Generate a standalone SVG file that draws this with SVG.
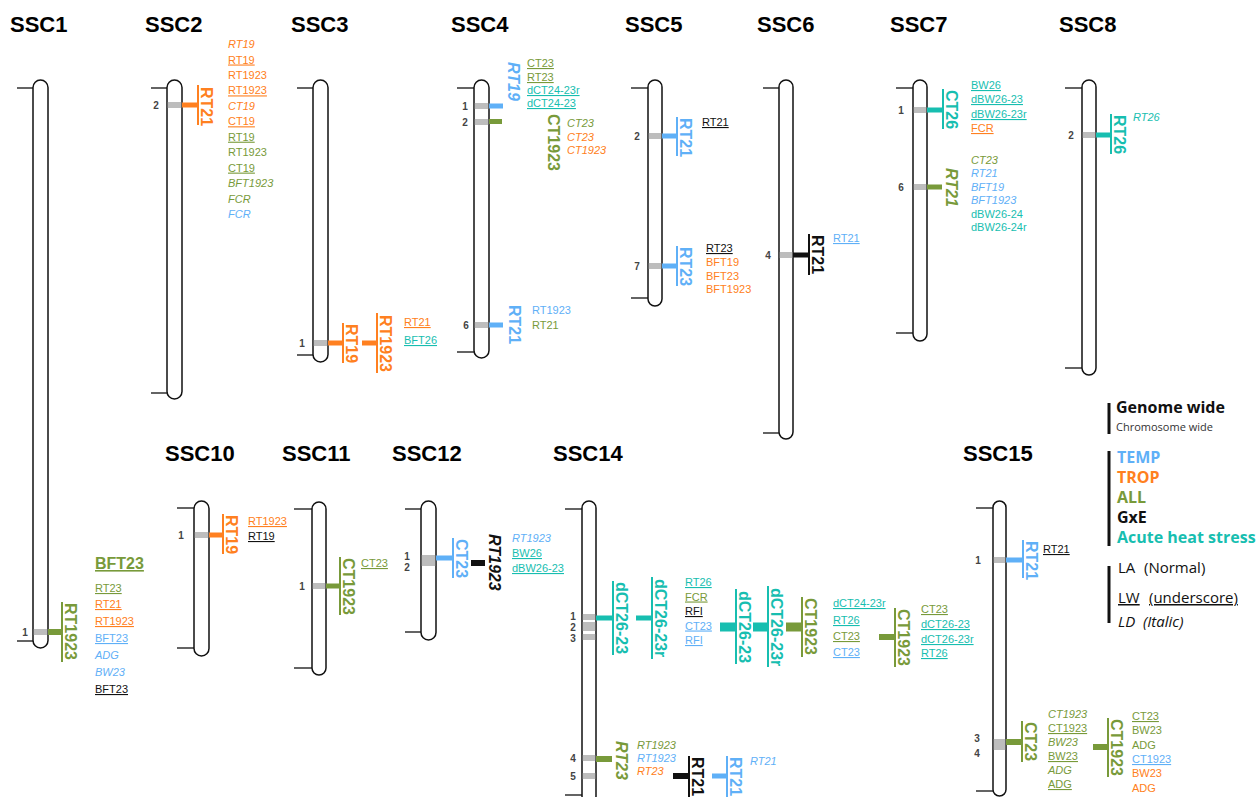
<svg xmlns="http://www.w3.org/2000/svg" width="1257" height="797" viewBox="0 0 1257 797">
<style>
.bg{fill:#fff}
.title{font-family:"Liberation Sans",Arial,sans-serif;font-weight:bold;font-size:22px;fill:#000}
.chr{fill:#fff;stroke:#111;stroke-width:1.5}
.tick{stroke:#222;stroke-width:1.4}
.band{fill:#bdbdbd}
.mk{font-family:"Liberation Sans",Arial,sans-serif;font-weight:bold;font-size:10px;fill:#444;text-anchor:middle}
.q{font-family:"Liberation Sans",Arial,sans-serif;font-weight:bold;font-size:16px}
.l{font-family:"Liberation Sans",Arial,sans-serif;font-size:11px}
.u{text-decoration:underline}
.i{font-style:italic}
.cB{fill:#5fb0f7}.cO{fill:#ff8020}.cG{fill:#789a3a}.cT{fill:#17beb0}.cK{fill:#111}
.sB{stroke:#5fb0f7}.sO{stroke:#ff8020}.sG{stroke:#789a3a}.sT{stroke:#17beb0}.sK{stroke:#111}
.ul{stroke-width:2}
.lg{font-family:"Open Sans","Liberation Sans",sans-serif}
.lgb{stroke:#111;stroke-width:3}
</style>
<rect class="bg" x="0" y="0" width="1257" height="797"/>

<!-- SSC1 -->
<g id="ssc1">
<text class="title" x="10" y="32">SSC1</text>
<line class="tick" x1="17" y1="88" x2="33" y2="88"/><line class="tick" x1="17" y1="641" x2="33" y2="641"/>
<rect class="chr" x="33" y="80" width="15" height="568" rx="7.5"/>
<rect class="band" x="33.8" y="629" width="13.4" height="6"/>
<text class="mk" x="25" y="636">1</text>
<line class="ul sG" x1="62" y1="602" x2="62" y2="662"/>
<text class="q cG" transform="translate(64.5,603) rotate(90)">RT1923</text>
<text class="q cG u" x="95" y="569">BFT23</text>
<text class="l cG u" x="95" y="592">RT23</text>
<text class="l cO u" x="95" y="608">RT21</text>
<text class="l cO u" x="95" y="625">RT1923</text>
<text class="l cB u" x="95" y="642">BFT23</text>
<text class="l cB i" x="95" y="659">ADG</text>
<text class="l cB i" x="95" y="676">BW23</text>
<text class="l cK u" x="95" y="693">BFT23</text>
</g>

<!-- SSC2 -->
<g id="ssc2">
<text class="title" x="145" y="32">SSC2</text>
<line class="tick" x1="151" y1="88" x2="167" y2="88"/><line class="tick" x1="151" y1="393" x2="167" y2="393"/>
<rect class="chr" x="167" y="80" width="15" height="319" rx="7.5"/>
<rect class="band" x="167.8" y="102" width="13.4" height="6"/>
<text class="mk" x="156" y="109">2</text>
<line class="ul sO" x1="198" y1="85" x2="198" y2="125"/>
<text class="q cO" transform="translate(200.5,87) rotate(90)">RT21</text>
<text class="l cO i" x="228" y="48">RT19</text>
<text class="l cO u" x="228" y="63.5">RT19</text>
<text class="l cO" x="228" y="79">RT1923</text>
<text class="l cO u" x="228" y="94.4">RT1923</text>
<text class="l cO i" x="228" y="109.8">CT19</text>
<text class="l cO u" x="228" y="125.3">CT19</text>
<text class="l cG u" x="228" y="140.7">RT19</text>
<text class="l cG" x="228" y="156.2">RT1923</text>
<text class="l cG u" x="228" y="171.6">CT19</text>
<text class="l cG i" x="228" y="187">BFT1923</text>
<text class="l cG i" x="228" y="202.5">FCR</text>
<text class="l cB i" x="228" y="218">FCR</text>
</g>

<!-- SSC3 -->
<g id="ssc3">
<text class="title" x="291" y="32">SSC3</text>
<line class="tick" x1="297" y1="88" x2="313" y2="88"/><line class="tick" x1="297" y1="355" x2="313" y2="355"/>
<rect class="chr" x="313" y="80" width="15" height="282" rx="7.5"/>
<rect class="band" x="313.8" y="340" width="13.4" height="6"/>
<text class="mk" x="302" y="347">1</text>
<line class="ul sO" x1="343" y1="323" x2="343" y2="363"/>
<text class="q cO" transform="translate(345.5,324) rotate(90)">RT19</text>
<line class="ul sO" x1="377" y1="313" x2="377" y2="373"/>
<text class="q cO" transform="translate(379.5,315) rotate(90)">RT1923</text>
<text class="l cO u" x="404" y="326">RT21</text>
<text class="l cT u" x="404" y="344">BFT26</text>
</g>

<!-- SSC4 -->
<g id="ssc4">
<text class="title" x="451" y="32">SSC4</text>
<line class="tick" x1="457" y1="88" x2="474" y2="88"/><line class="tick" x1="457" y1="352" x2="474" y2="352"/>
<rect class="chr" x="474" y="80" width="15" height="278" rx="7.5"/>
<rect class="band" x="474.8" y="103" width="13.4" height="6"/>
<rect class="band" x="474.8" y="119" width="13.4" height="6"/>
<rect class="band" x="474.8" y="322" width="13.4" height="6"/>
<text class="mk" x="465" y="110">1</text>
<text class="mk" x="465" y="126">2</text>
<text class="mk" x="466" y="329">6</text>
<text class="q cB i" transform="translate(507.5,62) rotate(90)">RT19</text>
<text class="q cG" transform="translate(548,114) rotate(90)">CT1923</text>
<text class="q cB" transform="translate(508.5,305) rotate(90)">RT21</text>
<text class="l cG u" x="527" y="67">CT23</text>
<text class="l cG u" x="527" y="81">RT23</text>
<text class="l cT u" x="527" y="94">dCT24-23r</text>
<text class="l cT u" x="527" y="107">dCT24-23</text>
<text class="l cG i" x="567" y="127">CT23</text>
<text class="l cO i" x="567" y="141">CT23</text>
<text class="l cO i" x="567" y="154">CT1923</text>
<text class="l cB" x="532" y="314">RT1923</text>
<text class="l cG" x="532" y="329">RT21</text>
</g>

<!-- SSC5 -->
<g id="ssc5">
<text class="title" x="625" y="32">SSC5</text>
<line class="tick" x1="631" y1="88" x2="648" y2="88"/><line class="tick" x1="631" y1="298" x2="648" y2="298"/>
<rect class="chr" x="648" y="80" width="14" height="226" rx="7"/>
<rect class="band" x="648.8" y="133" width="12.4" height="6"/>
<rect class="band" x="648.8" y="263" width="12.4" height="6"/>
<text class="mk" x="637" y="140">2</text>
<text class="mk" x="637" y="270">7</text>
<line class="ul sB" x1="677" y1="117" x2="677" y2="156"/>
<text class="q cB" transform="translate(679.5,118) rotate(90)">RT21</text>
<line class="ul sB" x1="677" y1="246" x2="677" y2="286"/>
<text class="q cB" transform="translate(679.5,247) rotate(90)">RT23</text>
<text class="l cK u" x="702" y="126">RT21</text>
<text class="l cK u" x="706" y="252">RT23</text>
<text class="l cO" x="706" y="266">BFT19</text>
<text class="l cO" x="706" y="280">BFT23</text>
<text class="l cO" x="706" y="293">BFT1923</text>
</g>

<!-- SSC6 -->
<g id="ssc6">
<text class="title" x="757" y="32">SSC6</text>
<line class="tick" x1="763" y1="88" x2="779" y2="88"/><line class="tick" x1="763" y1="433" x2="779" y2="433"/>
<rect class="chr" x="779" y="80" width="14" height="359" rx="7"/>
<rect class="band" x="779.8" y="252" width="12.4" height="6"/>
<text class="mk" x="768" y="259">4</text>
<line class="ul sK" x1="809" y1="234" x2="809" y2="275"/>
<text class="q cK" transform="translate(811.5,235) rotate(90)">RT21</text>
<text class="l cB u" x="833" y="242">RT21</text>
</g>

<!-- SSC7 -->
<g id="ssc7">
<text class="title" x="890" y="32">SSC7</text>
<line class="tick" x1="896" y1="88" x2="913" y2="88"/><line class="tick" x1="896" y1="333" x2="913" y2="333"/>
<rect class="chr" x="913" y="80" width="14" height="261" rx="7"/>
<rect class="band" x="913.8" y="107" width="12.4" height="6"/>
<rect class="band" x="913.8" y="184" width="12.4" height="6"/>
<text class="mk" x="901" y="114">1</text>
<text class="mk" x="901" y="191">6</text>
<line class="ul sT" x1="943" y1="89" x2="943" y2="129"/>
<text class="q cT" transform="translate(945.5,90) rotate(90)">CT26</text>
<text class="q cG i" transform="translate(945.5,168) rotate(90)">RT21</text>
<text class="l cT u" x="971" y="89">BW26</text>
<text class="l cT u" x="971" y="103">dBW26-23</text>
<text class="l cT u" x="971" y="118">dBW26-23r</text>
<text class="l cO u" x="971" y="132">FCR</text>
<text class="l cG i" x="971" y="164">CT23</text>
<text class="l cB i" x="971" y="177">RT21</text>
<text class="l cB i" x="971" y="191">BFT19</text>
<text class="l cB i" x="971" y="204">BFT1923</text>
<text class="l cT" x="971" y="218">dBW26-24</text>
<text class="l cT" x="971" y="231">dBW26-24r</text>
</g>

<!-- SSC8 -->
<g id="ssc8">
<text class="title" x="1059" y="32">SSC8</text>
<line class="tick" x1="1065" y1="88" x2="1082" y2="88"/><line class="tick" x1="1065" y1="368" x2="1082" y2="368"/>
<rect class="chr" x="1082" y="80" width="14" height="295" rx="7"/>
<rect class="band" x="1082.8" y="132" width="12.4" height="6"/>
<text class="mk" x="1071" y="139">2</text>
<line class="ul sT" x1="1111" y1="114" x2="1111" y2="154"/>
<text class="q cT" transform="translate(1113.5,115) rotate(90)">RT26</text>
<text class="l cT i" x="1133" y="121">RT26</text>
</g>

<!-- SSC10 -->
<g id="ssc10">
<text class="title" x="165" y="461">SSC10</text>
<line class="tick" x1="177" y1="508" x2="194" y2="508"/><line class="tick" x1="177" y1="648" x2="194" y2="648"/>
<rect class="chr" x="194" y="501" width="15" height="155" rx="7.5"/>
<rect class="band" x="194.8" y="532" width="13.4" height="6"/>
<text class="mk" x="181" y="539">1</text>
<line class="ul sO" x1="223" y1="514" x2="223" y2="554"/>
<text class="q cO" transform="translate(225.5,515) rotate(90)">RT19</text>
<text class="l cO u" x="248" y="525">RT1923</text>
<text class="l cK u" x="248" y="540">RT19</text>
</g>

<!-- SSC11 -->
<g id="ssc11">
<text class="title" x="282" y="461">SSC11</text>
<line class="tick" x1="294" y1="509" x2="312" y2="509"/><line class="tick" x1="294" y1="668" x2="312" y2="668"/>
<rect class="chr" x="312" y="502" width="14" height="173" rx="7"/>
<rect class="band" x="312.8" y="583" width="12.4" height="6"/>
<text class="mk" x="302" y="590">1</text>
<line class="ul sG" x1="340" y1="557" x2="340" y2="615"/>
<text class="q cG" transform="translate(342.5,558) rotate(90)">CT1923</text>
<text class="l cG u" x="361" y="567">CT23</text>
</g>

<!-- SSC12 -->
<g id="ssc12">
<text class="title" x="392" y="461">SSC12</text>
<line class="tick" x1="405" y1="509" x2="421" y2="509"/><line class="tick" x1="405" y1="632" x2="421" y2="632"/>
<rect class="chr" x="421" y="501" width="15" height="139" rx="7.5"/>
<rect class="band" x="421.8" y="555" width="13.4" height="11"/>
<text class="mk" x="407" y="560">1</text>
<text class="mk" x="407" y="571">2</text>
<line class="ul sB" x1="453" y1="538" x2="453" y2="578"/>
<text class="q cB" transform="translate(455.5,539) rotate(90)">CT23</text>
<text class="q cK i" transform="translate(488.5,534) rotate(90)">RT1923</text>
<text class="l cB i" x="512" y="542">RT1923</text>
<text class="l cT u" x="512" y="557">BW26</text>
<text class="l cT u" x="512" y="572">dBW26-23</text>
</g>

<!-- SSC14 -->
<g id="ssc14">
<text class="title" x="553" y="461">SSC14</text>
<line class="tick" x1="565" y1="509" x2="582" y2="509"/><line class="tick" x1="565" y1="795" x2="582" y2="795"/>
<rect class="chr" x="582" y="501" width="14" height="302" rx="7"/>
<rect class="band" x="582.8" y="614" width="12.4" height="6"/>
<rect class="band" x="582.8" y="622" width="12.4" height="9"/>
<rect class="band" x="582.8" y="634" width="12.4" height="6"/>
<rect class="band" x="582.8" y="755" width="12.4" height="6"/>
<rect class="band" x="582.8" y="773" width="12.4" height="6"/>
<text class="mk" x="573" y="620">1</text>
<text class="mk" x="573" y="631">2</text>
<text class="mk" x="573" y="642">3</text>
<text class="mk" x="573" y="762">4</text>
<text class="mk" x="573" y="780">5</text>
<line class="ul sT" x1="613" y1="581" x2="613" y2="655"/>
<text class="q cT" transform="translate(615.5,582) rotate(90)">dCT26-23</text>
<line class="ul sT" x1="652" y1="577" x2="652" y2="659"/>
<text class="q cT" transform="translate(654.5,579) rotate(90)">dCT26-23r</text>
<text class="l cT u" x="685" y="586">RT26</text>
<text class="l cG u" x="685" y="600.5">FCR</text>
<text class="l cK u" x="685" y="615">RFI</text>
<text class="l cB u" x="685" y="629.5">CT23</text>
<text class="l cB u" x="685" y="644">RFI</text>
<line class="ul sT" x1="736" y1="589" x2="736" y2="664"/>
<text class="q cT" transform="translate(738.5,591) rotate(90)">dCT26-23</text>
<line class="ul sT" x1="768" y1="586" x2="768" y2="667"/>
<text class="q cT" transform="translate(770.5,588) rotate(90)">dCT26-23r</text>
<line class="ul sG" x1="802" y1="597" x2="802" y2="657"/>
<text class="q cG" transform="translate(804.5,598) rotate(90)">CT1923</text>
<text class="l cT u" x="833" y="607">dCT24-23r</text>
<text class="l cT u" x="833" y="624">RT26</text>
<text class="l cG u" x="833" y="640">CT23</text>
<text class="l cB u" x="833" y="656">CT23</text>
<line class="ul sG" x1="895" y1="608" x2="895" y2="667"/>
<text class="q cG" transform="translate(897.5,609) rotate(90)">CT1923</text>
<text class="l cG u" x="921" y="613">CT23</text>
<text class="l cT u" x="921" y="628">dCT26-23</text>
<text class="l cT u" x="921" y="643">dCT26-23r</text>
<text class="l cT u" x="921" y="657">RT26</text>
<text class="q cG i" transform="translate(615.5,741) rotate(90)">RT23</text>
<text class="l cG i" x="637" y="749">RT1923</text>
<text class="l cB i" x="637" y="762">RT1923</text>
<text class="l cO i" x="637" y="775">RT23</text>
<line class="ul sK" x1="689" y1="756" x2="689" y2="797"/>
<text class="q cK" transform="translate(691.5,757) rotate(90)">RT21</text>
<line class="ul sB" x1="727" y1="756" x2="727" y2="797"/>
<text class="q cB" transform="translate(729.5,757) rotate(90)">RT21</text>
<text class="l cB i" x="750" y="765">RT21</text>
</g>

<!-- SSC15 -->
<g id="ssc15">
<text class="title" x="963" y="461">SSC15</text>
<line class="tick" x1="976" y1="508" x2="993" y2="508"/><line class="tick" x1="976" y1="791" x2="993" y2="791"/>
<rect class="chr" x="993" y="501" width="13" height="295" rx="6.5"/>
<rect class="band" x="993.8" y="557" width="11.4" height="6"/>
<rect class="band" x="993.8" y="739" width="11.4" height="11"/>
<text class="mk" x="978" y="564">1</text>
<text class="mk" x="977" y="742">3</text>
<text class="mk" x="977" y="757">4</text>
<line class="ul sB" x1="1023" y1="540" x2="1023" y2="578"/>
<text class="q cB" transform="translate(1025.5,541) rotate(90)">RT21</text>
<text class="l cK u" x="1043" y="553">RT21</text>
<line class="ul sG" x1="1022" y1="721" x2="1022" y2="762"/>
<text class="q cG" transform="translate(1024.5,722) rotate(90)">CT23</text>
<text class="l cG i" x="1048" y="718">CT1923</text>
<text class="l cG u" x="1048" y="732">CT1923</text>
<text class="l cG i" x="1048" y="746">BW23</text>
<text class="l cG u" x="1048" y="760">BW23</text>
<text class="l cG i" x="1048" y="774">ADG</text>
<text class="l cG u" x="1048" y="788">ADG</text>
<line class="ul sG" x1="1108" y1="718" x2="1108" y2="777"/>
<text class="q cG" transform="translate(1110.5,719) rotate(90)">CT1923</text>
<text class="l cG u" x="1132" y="720">CT23</text>
<text class="l cG" x="1132" y="734">BW23</text>
<text class="l cG" x="1132" y="749">ADG</text>
<text class="l cB u" x="1132" y="763">CT1923</text>
<text class="l cO" x="1132" y="777">BW23</text>
<text class="l cO" x="1132" y="792">ADG</text>
</g>

<!-- connectors: QTL bars from chromosome to label -->
<g id="connectors">
<rect class="cG" x="48" y="629" width="14" height="6"/>
<rect class="cO" x="182" y="102.5" width="16" height="5"/>
<rect class="cO" x="328" y="340.5" width="15" height="5"/>
<rect class="cO" x="362" y="340.5" width="15" height="5"/>
<rect class="cB" x="489" y="103.5" width="14" height="5"/>
<rect class="cG" x="489" y="119" width="13" height="5"/>
<rect class="cB" x="489" y="322.5" width="14" height="5"/>
<rect class="cB" x="662" y="133.5" width="15" height="5"/>
<rect class="cB" x="662" y="263.5" width="15" height="5"/>
<rect class="cK" x="793" y="252.5" width="16" height="5"/>
<rect class="cT" x="927" y="107.5" width="16" height="5"/>
<rect class="cG" x="927" y="184.5" width="15" height="5"/>
<rect class="cT" x="1096" y="132.5" width="15" height="5"/>
<rect class="cO" x="209" y="532.5" width="14" height="5"/>
<rect class="cG" x="326" y="583.5" width="14" height="5"/>
<rect class="cB" x="436" y="555.5" width="17" height="5"/>
<rect class="cK" x="471" y="560" width="14" height="6"/>
<rect class="cT" x="596" y="615.5" width="17" height="5"/>
<rect class="cT" x="636" y="615.5" width="16" height="5"/>
<rect class="cT" x="720" y="622.5" width="16" height="9"/>
<rect class="cT" x="753" y="622.5" width="15" height="9"/>
<rect class="cG" x="786" y="622.5" width="16" height="9"/>
<rect class="cG" x="879" y="634" width="16" height="6"/>
<rect class="cG" x="596" y="756" width="16" height="6"/>
<rect class="cK" x="673" y="773" width="16" height="6"/>
<rect class="cB" x="712" y="773.5" width="15" height="5"/>
<rect class="cB" x="1006" y="557.5" width="17" height="5"/>
<rect class="cG" x="1006" y="739" width="16" height="6"/>
<rect class="cG" x="1093" y="744" width="15" height="6"/>
</g>

<!-- Legend -->
<g id="legend">
<line class="lgb" x1="1109" y1="403" x2="1109" y2="434"/>
<text class="lg" x="1116" y="413" font-size="16" font-weight="bold" fill="#111">Genome wide</text>
<text class="lg" x="1116" y="431" font-size="11" fill="#333">Chromosome wide</text>
<line class="lgb" x1="1109" y1="451" x2="1109" y2="546"/>
<text class="lg cB" x="1117" y="463" font-size="16" font-weight="bold">TEMP</text>
<text class="lg cO" x="1117" y="483" font-size="16" font-weight="bold">TROP</text>
<text class="lg cG" x="1117" y="503" font-size="16" font-weight="bold">ALL</text>
<text class="lg cK" x="1117" y="523" font-size="16" font-weight="bold">GxE</text>
<text class="lg cT" x="1117" y="543" font-size="16" font-weight="bold">Acute heat stress</text>
<line class="lgb" x1="1109" y1="566" x2="1109" y2="623"/>
<text class="lg" x="1118" y="573" font-size="15" fill="#111">LA</text>
<text class="lg" x="1144" y="573" font-size="15" fill="#111">(Normal)</text>
<text class="lg u" x="1118" y="603" font-size="15" fill="#111">LW</text>
<text class="lg u" x="1149" y="603" font-size="15" fill="#111">(underscore)</text>
<text class="lg i" x="1118" y="627" font-size="15" fill="#111">LD</text>
<text class="lg i" x="1143" y="627" font-size="15" fill="#111">(Italic)</text>
</g>
</svg>
